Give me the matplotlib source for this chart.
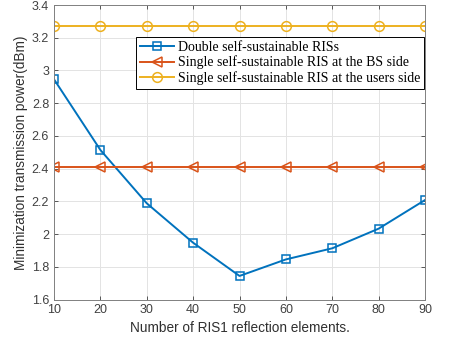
import matplotlib.pyplot as plt
import numpy as np

# Data
elements = [10, 20, 30, 40, 50, 60, 70, 80, 90]
double_ris = [2.946, 2.514, 2.188, 1.947, 1.744, 1.845, 1.913, 2.033, 2.208]
single_bs = [2.412] * len(elements)
single_users = [3.274] * len(elements)

labels = ['Double self-sustainable RISs',
          'Single self-sustainable RIS at the BS side',
          'Single self-sustainable RIS at the users side']

plt.rcParams['font.family'] = ['Liberation Sans', 'DejaVu Sans']

fig = plt.figure(figsize=(4.5, 3.43), dpi=100)
ax = fig.add_axes([54 / 450, 1 - 299.5 / 343, 371 / 450, 294.5 / 343])

ax.plot(elements, double_ris, color='#0072BD', marker='s', mfc='none',
        ms=6, mew=1.1, lw=1.4, label=labels[0])
ax.plot(elements, single_bs, color='#D95319', marker='<', mfc='none',
        ms=7, mew=1.1, lw=1.4, label=labels[1])
ax.plot(elements, single_users, color='#EDB120', marker='o', mfc='none',
        ms=7, mew=1.1, lw=1.4, label=labels[2])

ax.set_xlim(10, 90)
ax.set_ylim(1.6, 3.4)
ax.set_xticks(np.arange(10, 91, 10))
ax.set_yticks(np.arange(1.6, 3.41, 0.2))
ax.set_yticklabels(['1.6', '1.8', '2', '2.2', '2.4', '2.6', '2.8', '3', '3.2', '3.4'])
ax.grid(True, color='#e3e3e3', lw=0.7)
ax.set_axisbelow(True)
ax.tick_params(direction='in', top=True, right=True, length=3,
               labelsize=9, colors='#404040', width=0.6)
for s in ax.spines.values():
    s.set_color('#808080')
    s.set_linewidth(0.7)

ax.set_xlabel('Number of RIS1 reflection elements.', fontsize=9.8,
              color='#303030', labelpad=3)
ax.set_ylabel('Minimization transmission power(dBm)', fontsize=9.8,
              color='#303030', labelpad=3)

leg = ax.legend(loc='upper right', bbox_to_anchor=(0.998, 0.891),
                prop={'family': 'Liberation Serif', 'size': 10},
                fancybox=False, edgecolor='black', framealpha=1,
                borderpad=0.25, labelspacing=0.15, handlelength=2.5,
                handletextpad=0.3, borderaxespad=0)
leg.get_frame().set_linewidth(0.7)

fig.savefig('out.png')
